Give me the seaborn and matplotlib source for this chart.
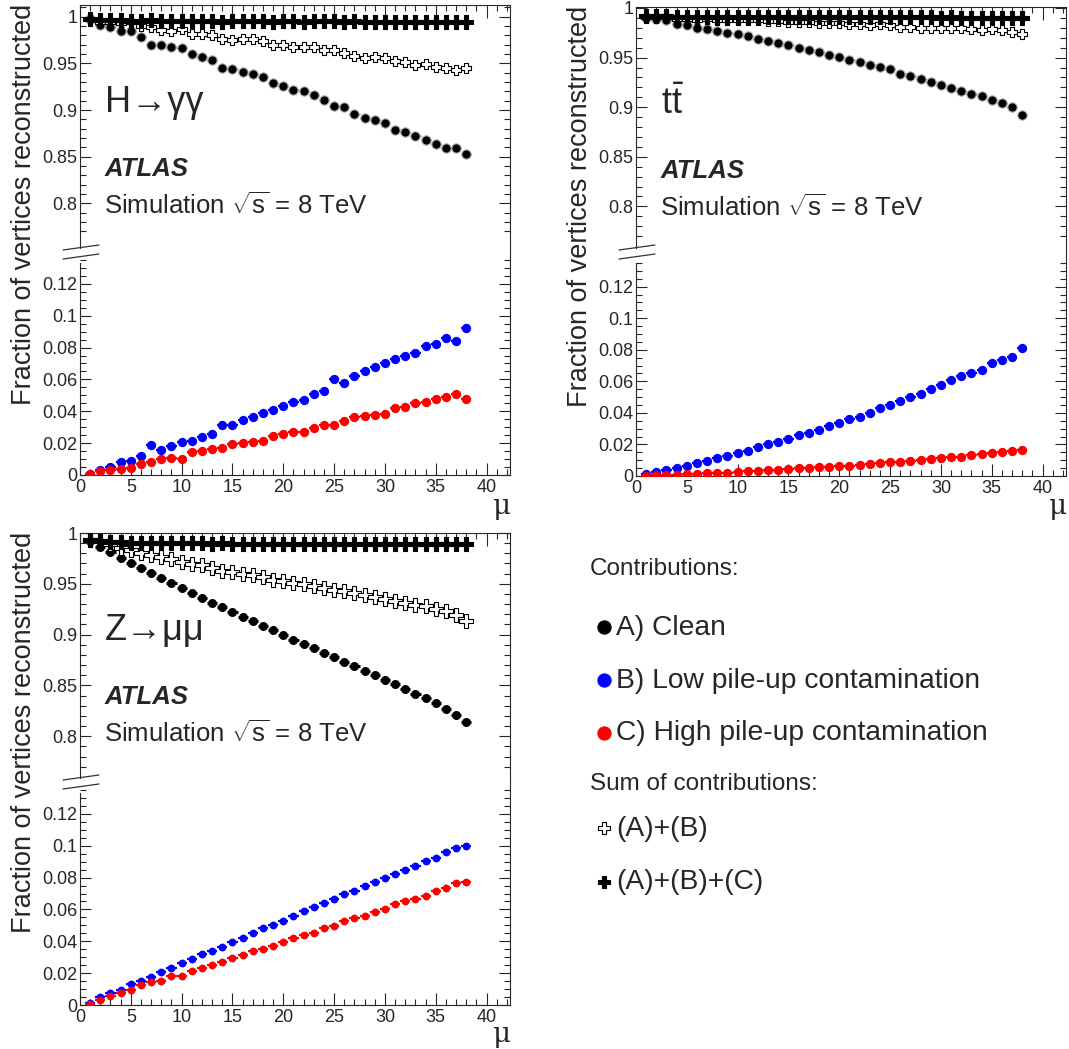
import numpy as np
import matplotlib
matplotlib.use("Agg")
import matplotlib.pyplot as plt
from matplotlib.lines import Line2D
from matplotlib.ticker import FixedLocator, FuncFormatter
import seaborn as sns

# pile-up bins
MU = list(range(1, 39))

# H -> gamma gamma
HGG_CLEAN = [0.997, 0.991, 0.989, 0.985, 0.985, 0.978, 0.970, 0.970, 0.967, 0.966,
             0.960, 0.957, 0.954, 0.945, 0.944, 0.941, 0.939, 0.935, 0.929, 0.926,
             0.922, 0.920, 0.916, 0.911, 0.904, 0.903, 0.896, 0.891, 0.889, 0.886,
             0.879, 0.876, 0.872, 0.868, 0.864, 0.859, 0.859, 0.853]
HGG_LOW = [0.0004, 0.003, 0.005, 0.0084, 0.0088, 0.012, 0.019, 0.016, 0.018, 0.021,
           0.0216, 0.024, 0.026, 0.0315, 0.0315, 0.0346, 0.0367, 0.0388, 0.041, 0.0435,
           0.0458, 0.047, 0.051, 0.053, 0.060, 0.058, 0.062, 0.065, 0.068, 0.070,
           0.073, 0.075, 0.0767, 0.081, 0.0825, 0.086, 0.084, 0.0924]
HGG_HIGH = [0.0004, 0.0025, 0.003, 0.0038, 0.0042, 0.0067, 0.0084, 0.0099, 0.0105, 0.0099,
            0.0145, 0.0151, 0.0164, 0.0168, 0.0195, 0.0204, 0.0208, 0.0216, 0.0246, 0.0256,
            0.0267, 0.0269, 0.0292, 0.0311, 0.0313, 0.0336, 0.0367, 0.0372, 0.0374, 0.0382,
            0.042, 0.043, 0.0451, 0.0456, 0.0477, 0.0487, 0.0508, 0.0479]
HGG_ALL = [0.997, 0.996, 0.996, 0.996, 0.995, 0.995, 0.996, 0.995, 0.995, 0.995,
           0.995, 0.995, 0.995, 0.994, 0.995, 0.995, 0.995, 0.995, 0.994, 0.995,
           0.995, 0.994, 0.995, 0.995, 0.995, 0.994, 0.995, 0.994, 0.994, 0.994,
           0.994, 0.994, 0.994, 0.994, 0.994, 0.994, 0.994, 0.994]

# ttbar
TT_CLEAN = [0.990, 0.989, 0.988, 0.9835, 0.9825, 0.980, 0.979, 0.977, 0.975, 0.9735,
            0.972, 0.969, 0.967, 0.965, 0.963, 0.960, 0.958, 0.956, 0.953, 0.951,
            0.948, 0.946, 0.943, 0.9405, 0.938, 0.9335, 0.931, 0.928, 0.925, 0.9225,
            0.9195, 0.9165, 0.9135, 0.911, 0.907, 0.904, 0.900, 0.892]
TT_LOW = [0.001, 0.0023, 0.0038, 0.0053, 0.0065, 0.008, 0.0095, 0.0112, 0.0127, 0.0144,
          0.0158, 0.0186, 0.020, 0.0215, 0.0232, 0.026, 0.0275, 0.029, 0.0317, 0.0334,
          0.0363, 0.0376, 0.0401, 0.0429, 0.0448, 0.0477, 0.0498, 0.052, 0.0551, 0.0577,
          0.0608, 0.0634, 0.0655, 0.0672, 0.0714, 0.0735, 0.0756, 0.0813]
TT_HIGH = [0.0002, 0.0006, 0.0008, 0.0008, 0.001, 0.0013, 0.0017, 0.0019, 0.0021, 0.0025,
           0.003, 0.0034, 0.0036, 0.0038, 0.0042, 0.0049, 0.0051, 0.0055, 0.0059, 0.0063,
           0.0065, 0.007, 0.0074, 0.0082, 0.0087, 0.0091, 0.0095, 0.0101, 0.0108, 0.0112,
           0.0118, 0.0122, 0.0133, 0.0137, 0.0146, 0.015, 0.0158, 0.0165]
TT_ALL = [0.992, 0.992, 0.992, 0.991, 0.991, 0.991, 0.991, 0.991, 0.991, 0.991,
          0.991, 0.991, 0.991, 0.991, 0.991, 0.991, 0.991, 0.991, 0.991, 0.991,
          0.991, 0.991, 0.991, 0.991, 0.991, 0.991, 0.991, 0.991, 0.991, 0.990,
          0.991, 0.990, 0.990, 0.990, 0.990, 0.990, 0.990, 0.990]

# Z -> mu mu
Z_CLEAN = [0.9925, 0.9865, 0.9810, 0.9757, 0.9705, 0.9655, 0.9605, 0.9555, 0.9505, 0.9455,
           0.9408, 0.9362, 0.9315, 0.9268, 0.9222, 0.9176, 0.9131, 0.9086, 0.9041, 0.8996,
           0.8952, 0.8908, 0.8864, 0.8820, 0.8776, 0.8732, 0.8688, 0.8644, 0.8600, 0.8556,
           0.8511, 0.8466, 0.8420, 0.8373, 0.8325, 0.8272, 0.8210, 0.8140]
Z_LOW = [0.001, 0.0052, 0.0078, 0.0094, 0.013, 0.0151, 0.0178, 0.0206, 0.0235, 0.0262,
         0.0288, 0.0319, 0.0336, 0.0363, 0.0395, 0.042, 0.0455, 0.0483, 0.05, 0.0529,
         0.0556, 0.0588, 0.0613, 0.064, 0.0667, 0.0697, 0.0718, 0.0745, 0.077, 0.0797,
         0.0823, 0.085, 0.0871, 0.0907, 0.0923, 0.0959, 0.0986, 0.0997]
Z_HIGH = [0.0004, 0.0031, 0.0057, 0.0073, 0.0094, 0.0124, 0.0143, 0.0153, 0.0185, 0.0185,
          0.0216, 0.0233, 0.0248, 0.0271, 0.0294, 0.0315, 0.034, 0.0353, 0.0371, 0.0397,
          0.042, 0.0439, 0.0455, 0.0481, 0.0493, 0.0529, 0.0546, 0.056, 0.0581, 0.0604,
          0.0634, 0.0651, 0.0665, 0.0682, 0.0718, 0.0735, 0.0766, 0.0772]
Z_ALL = [0.993, 0.992, 0.991, 0.991, 0.990, 0.990, 0.990, 0.990, 0.990, 0.990,
         0.990, 0.990, 0.989, 0.990, 0.989, 0.989, 0.989, 0.989, 0.989, 0.989,
         0.989, 0.989, 0.989, 0.989, 0.989, 0.989, 0.989, 0.989, 0.989, 0.989,
         0.989, 0.989, 0.989, 0.989, 0.989, 0.989, 0.989, 0.989]

UP_TICKS = [0.8, 0.85, 0.9, 0.95, 1.0]
LO_TICKS = [0, 0.02, 0.04, 0.06, 0.08, 0.1, 0.12]
X_TICKS = [0, 5, 10, 15, 20, 25, 30, 35, 40]

LABELS = ["A) Clean", "B) Low pile-up contamination", "C) High pile-up contamination",
          "(A)+(B)", "(A)+(B)+(C)"]

W, H = 1069, 1049
BLUE, RED = "#0000ff", "#ff0000"

sns.set_style("ticks")
plt.rcParams["font.family"] = ["Liberation Sans", "DejaVu Sans"]
plt.rcParams["mathtext.fontset"] = "custom"
plt.rcParams["mathtext.rm"] = "Liberation Sans"
plt.rcParams["axes.linewidth"] = 0.8

fig = plt.figure(figsize=(W / 100, H / 100), dpi=100)


def fx(x):
    return x / W


def fy(y):
    return 1 - y / H


def rect(x0, x1, ytop, ybot):
    return [fx(x0), fy(ybot), (x1 - x0) / W, (ybot - ytop) / H]


fmt = FuncFormatter(lambda v, p: f"{v:g}")


def style_axes(ax, upper):
    ax.set_xlim(0, 42.3)
    ax.xaxis.set_major_locator(FixedLocator(X_TICKS))
    ax.xaxis.set_minor_locator(FixedLocator(list(range(0, 43))))
    ax.tick_params(axis="both", which="both", direction="in", labelsize=13,
                   width=0.8, left=True, right=True)
    ax.tick_params(axis="y", which="major", length=8, pad=2)
    ax.tick_params(axis="y", which="minor", length=4)
    ax.tick_params(axis="x", which="major", length=9, pad=3)
    ax.tick_params(axis="x", which="minor", length=4.5)
    ax.yaxis.set_major_formatter(fmt)
    ax.xaxis.set_major_formatter(fmt)
    ax.set_xlabel("")
    ax.set_ylabel("")
    if upper:
        ax.tick_params(axis="x", which="both", top=True, bottom=False, labelbottom=False)
        ax.spines["bottom"].set_visible(False)
    else:
        ax.tick_params(axis="x", which="both", top=False, bottom=True)
        ax.spines["top"].set_visible(False)


def draw_panel(x0, x1, ytop, ybrk, ybot, up_lim, lo_lim, clean, low, high, total,
               dot_s, cross_s, open_s, halo, title, mu_base):
    ax_up = fig.add_axes(rect(x0, x1, ytop, ybrk))
    ax_lo = fig.add_axes(rect(x0, x1, ybrk, ybot))
    ab = np.add(clean, low)

    # upper part: clean and the sums
    ax_up.errorbar(MU, clean, xerr=0.5, fmt="none", ecolor=halo, elinewidth=2.2, zorder=2)
    sns.scatterplot(x=MU, y=clean, ax=ax_up, marker="o", color="black", s=dot_s,
                    edgecolor=halo, linewidth=0.8, zorder=3, legend=False)
    sns.scatterplot(x=MU, y=ab, ax=ax_up, marker="P", color="white", s=open_s,
                    edgecolor="black", linewidth=0.8, zorder=4, legend=False)
    ax_up.errorbar(MU, total, xerr=0.5, fmt="none", ecolor="black", elinewidth=2.5, zorder=5)
    sns.scatterplot(x=MU, y=total, ax=ax_up, marker="P", color="black", s=cross_s,
                    edgecolor="black", linewidth=0.8, zorder=6, legend=False)
    ax_up.set_ylim(*up_lim)
    ax_up.yaxis.set_major_locator(FixedLocator(UP_TICKS))
    ax_up.yaxis.set_minor_locator(FixedLocator(list(np.arange(0.77, 1.011, 0.01))))
    style_axes(ax_up, True)

    # lower part: pile-up contaminations
    for vals, col in ((low, BLUE), (high, RED)):
        ax_lo.errorbar(MU, vals, xerr=0.5, fmt="none", ecolor=col, elinewidth=1.6, zorder=2)
        sns.scatterplot(x=MU, y=vals, ax=ax_lo, marker="o", color=col, s=dot_s,
                        edgecolor=col, linewidth=0, zorder=3, legend=False)
    ax_lo.set_ylim(*lo_lim)
    ax_lo.yaxis.set_major_locator(FixedLocator(LO_TICKS))
    ax_lo.yaxis.set_minor_locator(FixedLocator(list(np.arange(0, 0.1351, 0.005))))
    style_axes(ax_lo, False)

    # axis break on the left side
    span_lo = lo_lim[1] - lo_lim[0]
    gap_val = lo_lim[1] - span_lo * 11 / (ybot - ybrk)
    ax_lo.spines["left"].set_bounds(0, gap_val)
    span_up = up_lim[1] - up_lim[0]
    ax_up.spines["left"].set_bounds(up_lim[0] + span_up * 4 / (ybrk - ytop), up_lim[1])
    for dy in (0, 9):
        fig.add_artist(Line2D([fx(x0 - 17), fx(x0 + 19)],
                              [fy(ybrk - 2 + dy), fy(ybrk - 7 + dy)],
                              color="#333333", lw=0.9))

    # labels and annotations
    fig.text(fx(x0 + 25), fy(ytop + 107), title, fontsize=26, va="baseline", ha="left")
    fig.text(fx(x0 + 25), fy(ytop + 171), "ATLAS", fontsize=18.5, fontweight="bold",
             fontstyle="italic", va="baseline", ha="left")
    fig.text(fx(x0 + 24), fy(ytop + 209), r"Simulation $\sqrt{\mathregular{s}}$ = 8 TeV",
             fontsize=18.5, va="baseline", ha="left")
    fig.text(fx(x0 - 56), fy(ytop - 1), "Fraction of vertices reconstructed",
             rotation=90, fontsize=19.5, ha="center", va="top")
    fig.text(fx(x1 + 1), fy(mu_base), "μ", fontsize=20, ha="right", va="baseline",
             family=["DejaVu Serif"])
    return ax_up, ax_lo


draw_panel(80, 510, 5, 252, 475, (0.748, 1.0125), (0, 0.14),
           HGG_CLEAN, HGG_LOW, HGG_HIGH, HGG_ALL, 45, 110, 42, "#b0b0b0", "H→γγ", 514)
draw_panel(636, 1066, 7, 252, 476, (0.754, 1.001), (0, 0.142),
           TT_CLEAN, TT_LOW, TT_HIGH, TT_ALL, 45, 110, 48, "#b0b0b0",
           r"$\mathregular{t\bar{t}}$", 514)
draw_panel(80, 510, 533, 782, 1005, (0.755, 1.0), (0, 0.14),
           Z_CLEAN, Z_LOW, Z_HIGH, Z_ALL, 32, 110, 95, "black", "Z→μμ", 1042)

# legend block
fig.text(fx(590), fy(575), "Contributions:", fontsize=17.5, va="baseline")
fig.text(fx(590), fy(790), "Sum of contributions:", fontsize=17.5, va="baseline")
legend_rows = [
    (627, 635, "o", "black", "black", 90),
    (680, 688, "o", BLUE, BLUE, 90),
    (733, 740, "o", RED, RED, 90),
    (828, 836, "P", "white", "black", 70),
    (882, 889, "P", "black", "black", 70),
]
for (ym, yt, mk, fc, ec, sz), lab in zip(legend_rows, LABELS):
    fig.add_artist(Line2D([fx(604)], [fy(ym)], marker=mk, markersize=np.sqrt(sz),
                          markerfacecolor=fc, markeredgecolor=ec, markeredgewidth=0.8,
                          linestyle="none"))
    fig.text(fx(616), fy(yt), lab, fontsize=20.3, va="baseline")

fig.savefig("out.png", dpi=100)
